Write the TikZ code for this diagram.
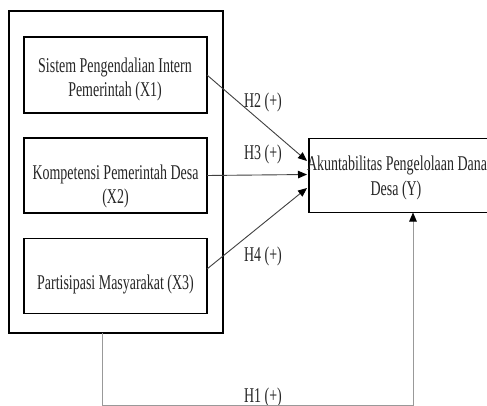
\documentclass[tikz,border=0pt]{standalone}
\usepackage{fontspec}
\setmainfont{Liberation Serif}[FakeStretch=0.665]
\usetikzlibrary{arrows.meta,calc}
\begin{document}
\begin{tikzpicture}[x=1pt,y=-1pt,
  box/.style={draw=black,line width=1.7pt,inner sep=0pt,outer sep=0pt},
  txt/.style={anchor=base,inner sep=0pt,text=black!85,font=\fontsize{21}{24}\selectfont},
  arr/.style={draw=black!75,line width=0.9pt,-{Triangle[length=9pt,width=7.5pt,color=black]}},
  h1line/.style={draw=black!40,line width=1pt,-{Triangle[length=9pt,width=7.5pt,color=black]}}]
\useasboundingbox (0,0) rectangle (487,406);
\clip (0,0) rectangle (487,406);
\fill[white] (0,0) rectangle (487,406);
% boxes
\node[box,minimum width=213.7pt,minimum height=321.7pt] (outer) at (115.85,171.85) {};
\node[box,minimum width=183pt,minimum height=76pt] (X1) at (115.5,75) {};
\node[box,minimum width=183pt,minimum height=75pt] (X2) at (115.5,175.5) {};
\node[box,minimum width=183pt,minimum height=75pt] (X3) at (115.5,276) {};
\node[box,minimum width=181pt,minimum height=74pt] (Y) at (399.5,175.5) {};
% texts
\node[txt] (X1a) at (115,73) {Sistem Pengendalian Intern};
\node[txt] (X1b) at (115,97) {Pemerintah (X1)};
\node[txt] (X2a) at (115.5,180) {Kompetensi Pemerintah Desa};
\node[txt] (X2b) at (115.5,204) {(X2)};
\node[txt] (X3a) at (115.5,289) {Partisipasi Masyarakat (X3)};
\node[txt] (Ya) at (397,171) {Akuntabilitas Pengelolaan Dana};
\node[txt] (Yb) at (396,196) {Desa (Y)};
% labels
\node[txt] (H2) at (263,108) {H2 (+)};
\node[txt] (H3) at (263,160) {H3 (+)};
\node[txt] (H4) at (263,261) {H4 (+)};
\node[txt] (H1) at (263,402) {H1 (+)};
% connectors
\draw[arr] (X1.east) -- ($(Y.west)+(-2,-14.5)$);
\draw[arr] (X2.east) -- ($(Y.west)+(-2,-1)$);
\draw[arr] ($(X3.east)+(0,-7)$) -- ($(Y.west)+(-2,12.5)$);
\coordinate (c1) at (102,405);
\coordinate (c2) at (413,405);
\draw[h1line] (outer.south -| c1) -- (c1) -- (c2) -- (Y.south -| c2);
\end{tikzpicture}
\end{document}
